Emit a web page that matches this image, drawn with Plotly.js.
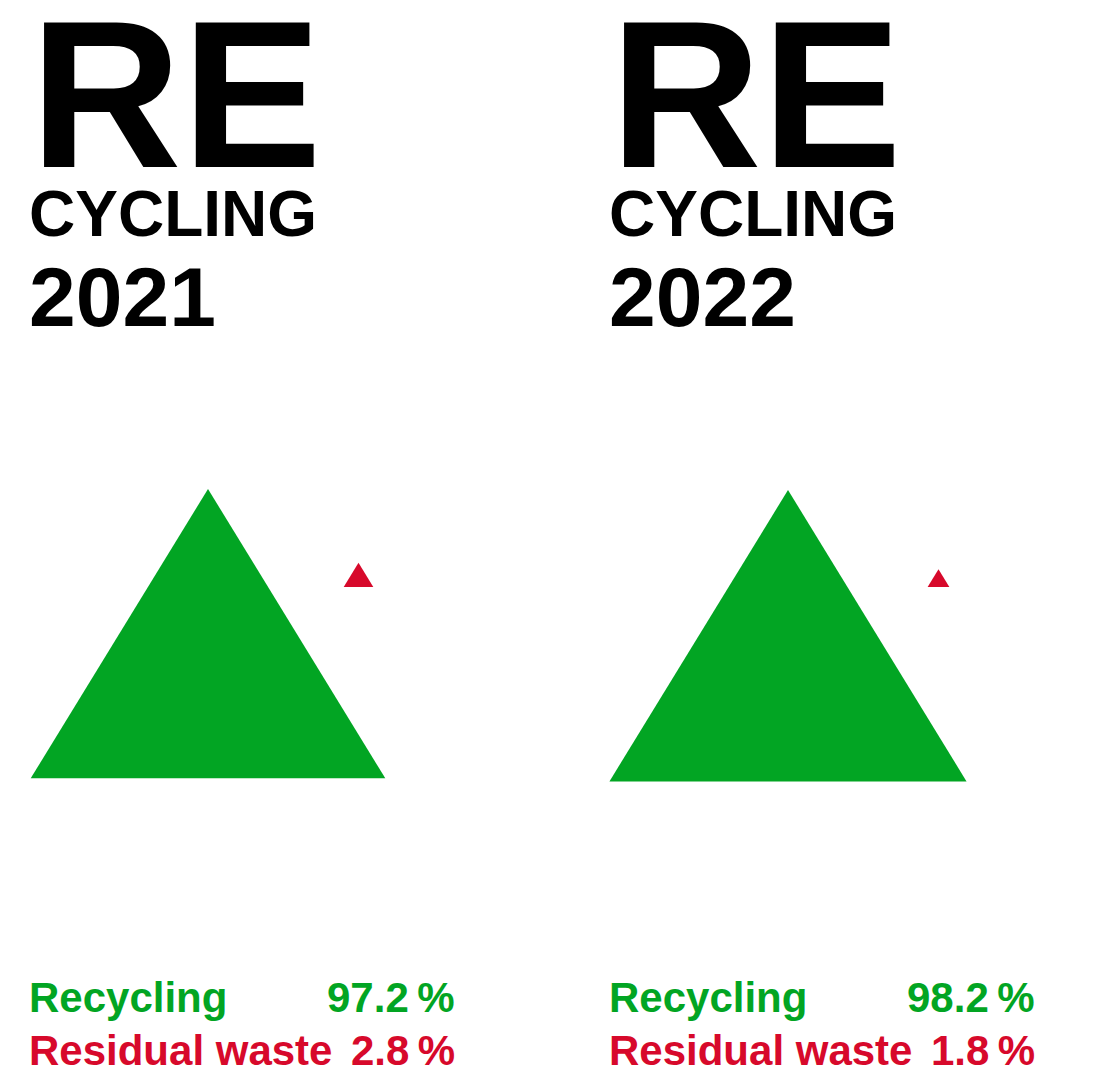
<!DOCTYPE html>
<html>
<head>
<meta charset="utf-8">
<script src="https://cdn.plot.ly/plotly-3.0.1.min.js"></script>
<style>html,body{margin:0;padding:0;background:#fff;}#chart{width:1094px;height:1070px;}</style>
</head>
<body>
<div id="chart"></div>
<script>
// ---- data ----
const years = ['2021', '2022'];
const recycling = [97.2, 98.2];
const residual = [2.8, 1.8];
const seriesNames = ['Recycling', 'Residual waste'];
const headerWords = ['RE', 'CYCLING'];

// ---- styling / layout constants ----
const W = 1094, H = 1070;
const GREEN = '#02A523';
const RED = '#D7092B';
const FONT = 'Liberation Sans, Arial, Helvetica, sans-serif';
const panelX = [0, 580];          // panel offsets
const textX = 28;                 // left text anchor inside panel
const valueRight = 456;           // right anchor of percentage text inside panel
const greenApex = {x: 208, y: 489};
const redBase = {x: 358.5, y: 587};
const sizeK = 14.4, sizeP = 0.7, aspect = 0.816;

function triWidth(v) { return sizeK * Math.pow(v, sizeP); }
function triangleFromApex(cx, ay, v) {
  const w = triWidth(v), h = w * aspect;
  return {x: [cx - w / 2, cx + w / 2, cx, cx - w / 2], y: [ay + h, ay + h, ay, ay + h]};
}
function triangleFromBase(cx, by, v) {
  const w = triWidth(v), h = w * aspect;
  return {x: [cx - w / 2, cx + w / 2, cx, cx - w / 2], y: [by, by, by - h, by]};
}
// pixel -> paper helpers for text placement
const px = v => v / W;
const py = v => 1 - v / H;

const traces = [];
const annotations = [];
years.forEach((yr, i) => {
  const ox = panelX[i];
  const g = triangleFromApex(greenApex.x + ox, greenApex.y + (i === 1 ? 1 : 0), recycling[i]);
  traces.push({type: 'scatter', mode: 'lines', x: g.x, y: g.y, fill: 'toself',
    fillcolor: GREEN, line: {width: 0, color: GREEN}, name: seriesNames[0] + ' ' + yr, hoverinfo: 'skip'});
  const r = triangleFromBase(redBase.x + ox, redBase.y, residual[i]);
  traces.push({type: 'scatter', mode: 'lines', x: r.x, y: r.y, fill: 'toself',
    fillcolor: RED, line: {width: 0, color: RED}, name: seriesNames[1] + ' ' + yr, hoverinfo: 'skip'});

  const base = {xref: 'paper', yref: 'paper', showarrow: false, xanchor: 'left', yanchor: 'top', borderpad: 0};
  annotations.push(Object.assign({}, base, {x: px(textX + 1 + ox), y: py(-24), text: headerWords[0],
    font: {family: FONT, size: 210, color: '#000', weight: 'bold'}}));
  annotations.push(Object.assign({}, base, {x: px(textX + ox), y: py(177), text: headerWords[1],
    font: {family: FONT, size: 64, color: '#000', weight: 'bold'}}));
  annotations.push(Object.assign({}, base, {x: px(textX + ox), y: py(249), text: yr,
    font: {family: FONT, size: 84, color: '#000', weight: 'bold'}}));

  annotations.push(Object.assign({}, base, {x: px(textX + ox), y: py(973), text: seriesNames[0],
    font: {family: FONT, size: 42, color: GREEN, weight: 'bold'}}));
  annotations.push(Object.assign({}, base, {x: px(valueRight + ox), y: py(973), xanchor: 'right',
    text: recycling[i].toFixed(1) + '\u2009%', font: {family: FONT, size: 42, color: GREEN, weight: 'bold'}}));
  annotations.push(Object.assign({}, base, {x: px(textX + ox), y: py(1026), text: seriesNames[1],
    font: {family: FONT, size: 42, color: RED, weight: 'bold'}}));
  annotations.push(Object.assign({}, base, {x: px(valueRight + ox), y: py(1026), xanchor: 'right',
    text: residual[i].toFixed(1) + '\u2009%', font: {family: FONT, size: 42, color: RED, weight: 'bold'}}));
});

const layout = {
  width: W, height: H,
  margin: {l: 0, r: 0, t: 0, b: 0, pad: 0},
  paper_bgcolor: '#fff', plot_bgcolor: '#fff',
  showlegend: false,
  xaxis: {range: [0, W], visible: false, fixedrange: true},
  yaxis: {range: [H, 0], visible: false, fixedrange: true},
  annotations: annotations
};
Plotly.newPlot('chart', traces, layout, {staticPlot: true, displayModeBar: false});
</script>
</body>
</html>
